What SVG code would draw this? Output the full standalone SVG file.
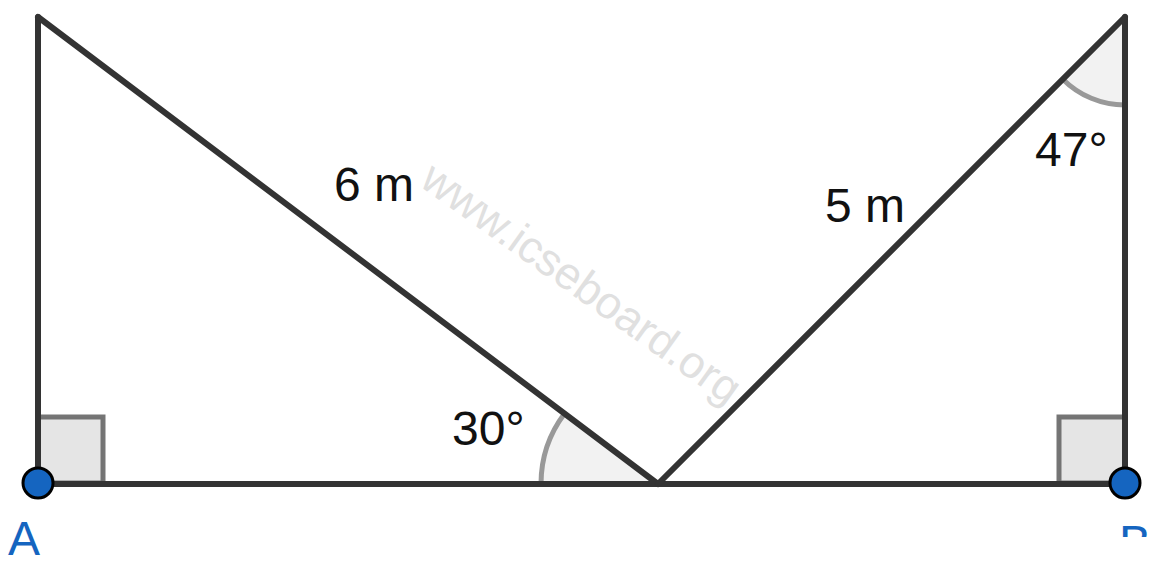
<svg xmlns="http://www.w3.org/2000/svg" width="1162" height="568" viewBox="0 0 1162 568">
<style>
.ln{stroke:#333;stroke-width:6;fill:none;stroke-linecap:round;stroke-linejoin:round}
.sq{fill:#e5e5e5;stroke:#666;stroke-width:5;stroke-opacity:0.9}
.ang{fill:#f2f2f2;stroke:none}
.arc{fill:none;stroke:#999;stroke-width:5}
.lbl{font-family:"Liberation Sans",Arial,sans-serif;font-size:48px;fill:#111}
.pl{font-family:"Liberation Sans",Arial,sans-serif;font-size:48px;fill:#1565c0}
.pt{fill:#1565c0;stroke:#000;stroke-width:3}
.wm{font-family:"Liberation Sans",Arial,sans-serif;font-size:45px;fill:#e0e0e0}
</style>
<defs>
<clipPath id="clipB"><rect x="1100" y="500" width="62" height="37"/></clipPath>
</defs>
<text class="wm" x="418" y="185" transform="rotate(35.5 418 185)">www.icseboard.org</text>
<g id="shapes">
<rect class="sq" x="38" y="417" width="65" height="66"/>
<rect class="sq" x="1059" y="417" width="66" height="66"/>
<path class="ang" d="M658,484 L541,484 A117,117 0 0 1 564.6,413.6 Z"/>
<path class="arc" d="M541,484 A117,117 0 0 1 564.6,413.6"/>
<path class="ang" d="M1125,17 L1125,105 A88,88 0 0 1 1062.8,79.2 Z"/>
<path class="arc" d="M1125,105 A88,88 0 0 1 1062.8,79.2"/>
</g>
<g id="connectors">
<line class="ln" x1="38" y1="17" x2="38" y2="483"/>
<line class="ln" x1="38" y1="17" x2="658" y2="484"/>
<line class="ln" x1="38" y1="484" x2="1125" y2="484"/>
<line class="ln" x1="658" y1="484" x2="1125" y2="17"/>
<line class="ln" x1="1125" y1="17" x2="1125" y2="483"/>
</g>
<g id="labels">
<text class="lbl" x="334" y="201">6 m</text>
<text class="lbl" x="825" y="222">5 m</text>
<text class="lbl" x="452" y="445">30°</text>
<text class="lbl" x="1035" y="166">47°</text>
</g>
<g id="A">
<circle class="pt" cx="38" cy="483" r="15"/>
<text class="pl" x="8" y="555">A</text>
</g>
<g id="B">
<circle class="pt" cx="1125" cy="483" r="15"/>
<text class="pl" x="1119" y="559" clip-path="url(#clipB)">B</text>
</g>
</svg>
